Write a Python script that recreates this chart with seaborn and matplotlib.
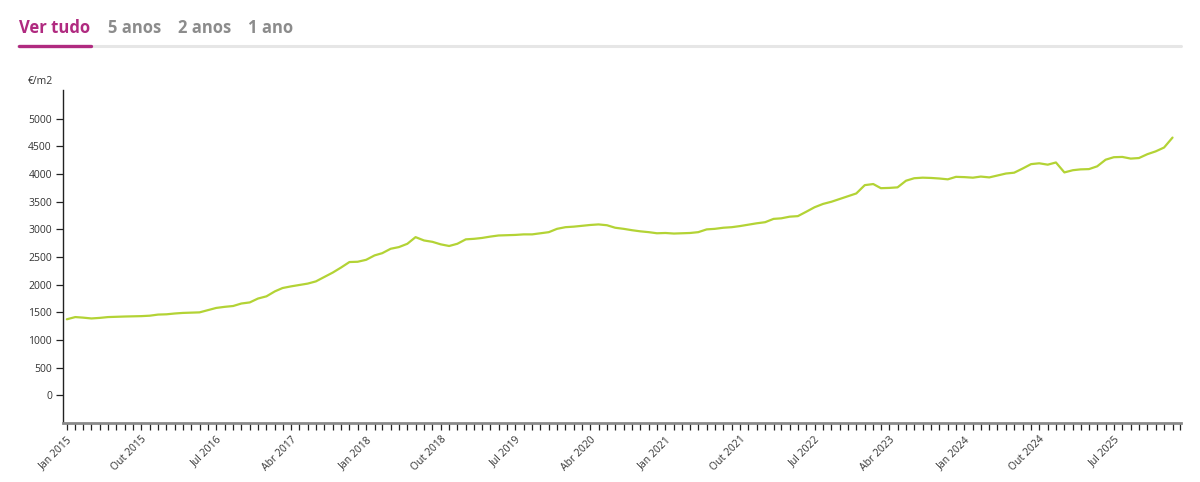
import matplotlib
matplotlib.use("Agg")
import matplotlib.dates as mdates
import numpy as np
import pandas as pd
import seaborn as sns
from matplotlib import pyplot as plt

# monthly price per m2, Jan 2015 .. Feb 2026
price = [
    1375, 1415, 1405, 1390, 1400, 1415, 1420, 1425, 1428, 1432, 1440, 1460,
    1465, 1480, 1490, 1495, 1500, 1540, 1580, 1600, 1615, 1660, 1680, 1750,
    1790, 1880, 1940, 1970, 1995, 2020, 2060, 2140, 2220, 2310, 2410, 2415,
    2450, 2530, 2570, 2650, 2680, 2740, 2860, 2800, 2775, 2730, 2700, 2740,
    2820, 2830, 2845, 2870, 2890, 2895, 2900, 2910, 2910, 2930, 2950, 3010,
    3040, 3050, 3065, 3080, 3090, 3075, 3030, 3010, 2985, 2965, 2950, 2930,
    2935, 2925, 2930, 2935, 2950, 3000, 3010, 3030, 3040, 3060, 3085, 3110,
    3130, 3190, 3200, 3230, 3240, 3320, 3400, 3460, 3500, 3550, 3600, 3650,
    3800, 3820, 3745, 3750, 3760, 3880, 3925, 3935, 3930, 3920, 3905, 3950,
    3945, 3935, 3955, 3940, 3975, 4010, 4025, 4100, 4180, 4195, 4170, 4210,
    4030, 4070, 4085, 4090, 4140, 4260, 4305, 4310, 4280, 4290, 4360, 4410,
    4480, 4660,
]
months = pd.date_range("2015-01-01", periods=len(price), freq="MS")
month_names = {1: "Jan", 4: "Abr", 7: "Jul", 10: "Out"}
tabs = ["Ver tudo", "5 anos", "2 anos", "1 ano"]
tab_x = [19, 108, 178, 248]
y_ticks = list(range(0, 5001, 500))

df = pd.DataFrame({"mes": months, "preco": price})

sns.set_style("white")
plt.rcParams["font.family"] = ["Open Sans", "DejaVu Sans"]

fig = plt.figure(figsize=(12, 4.82), dpi=100)
ax = fig.add_axes([63 / 1200, 1 - 423 / 482, (1181 - 63) / 1200, (423 - 90) / 482])

sns.lineplot(data=df, x="mes", y="preco", ax=ax, color="#b3d335", linewidth=1.6)

ax.set_ylim(-500, 5520)
ax.set_yticks(y_ticks)
ax.set_xlim(pd.Timestamp("2014-12-18"), pd.Timestamp("2026-03-04"))

label_ticks = pd.date_range("2015-01-01", "2026-03-01", freq="9MS")
ax.set_xticks(label_ticks)
ax.set_xticklabels([f"{month_names[d.month]} {d.year}" for d in label_ticks])
ax.xaxis.set_minor_locator(mdates.MonthLocator())
for lbl in ax.get_xticklabels():
    lbl.set_rotation(45)
    lbl.set_ha("right")
    lbl.set_rotation_mode("anchor")

ax.tick_params(axis="x", which="both", bottom=True, length=5, width=0.9,
               color="#222222", direction="out", labelsize=7.5,
               labelcolor="#333333", pad=3)
ax.tick_params(axis="y", left=True, length=5, width=0.9, color="#222222",
               direction="out", labelsize=7.5, labelcolor="#333333", pad=3)
ax.set_xlabel("")
ax.set_ylabel("")

for side in ["top", "right"]:
    ax.spines[side].set_visible(False)
ax.spines["left"].set_color("#222222")
ax.spines["left"].set_linewidth(1.0)
ax.spines["bottom"].set_color("#8a8a8a")
ax.spines["bottom"].set_linewidth(2.0)

fig.text(28 / 1200, 1 - 81 / 482, "€/m2", fontsize=7.5, color="#333333", va="center")

# tabs on top
for i, (name, x) in enumerate(zip(tabs, tab_x)):
    fig.text(x / 1200, 1 - 28 / 482, name, fontsize=12, fontweight="bold",
             color="#b02a80" if i == 0 else "#8c8c8c", va="center")
fig.add_artist(plt.Line2D([18 / 1200, 1181 / 1200], [1 - 45.5 / 482] * 2,
                          color="#e6e6e6", linewidth=2.2))
fig.add_artist(plt.Line2D([19 / 1200, 91 / 1200], [1 - 45.5 / 482] * 2,
                          color="#b02a80", linewidth=2.4))

fig.savefig("out.png", dpi=100)
